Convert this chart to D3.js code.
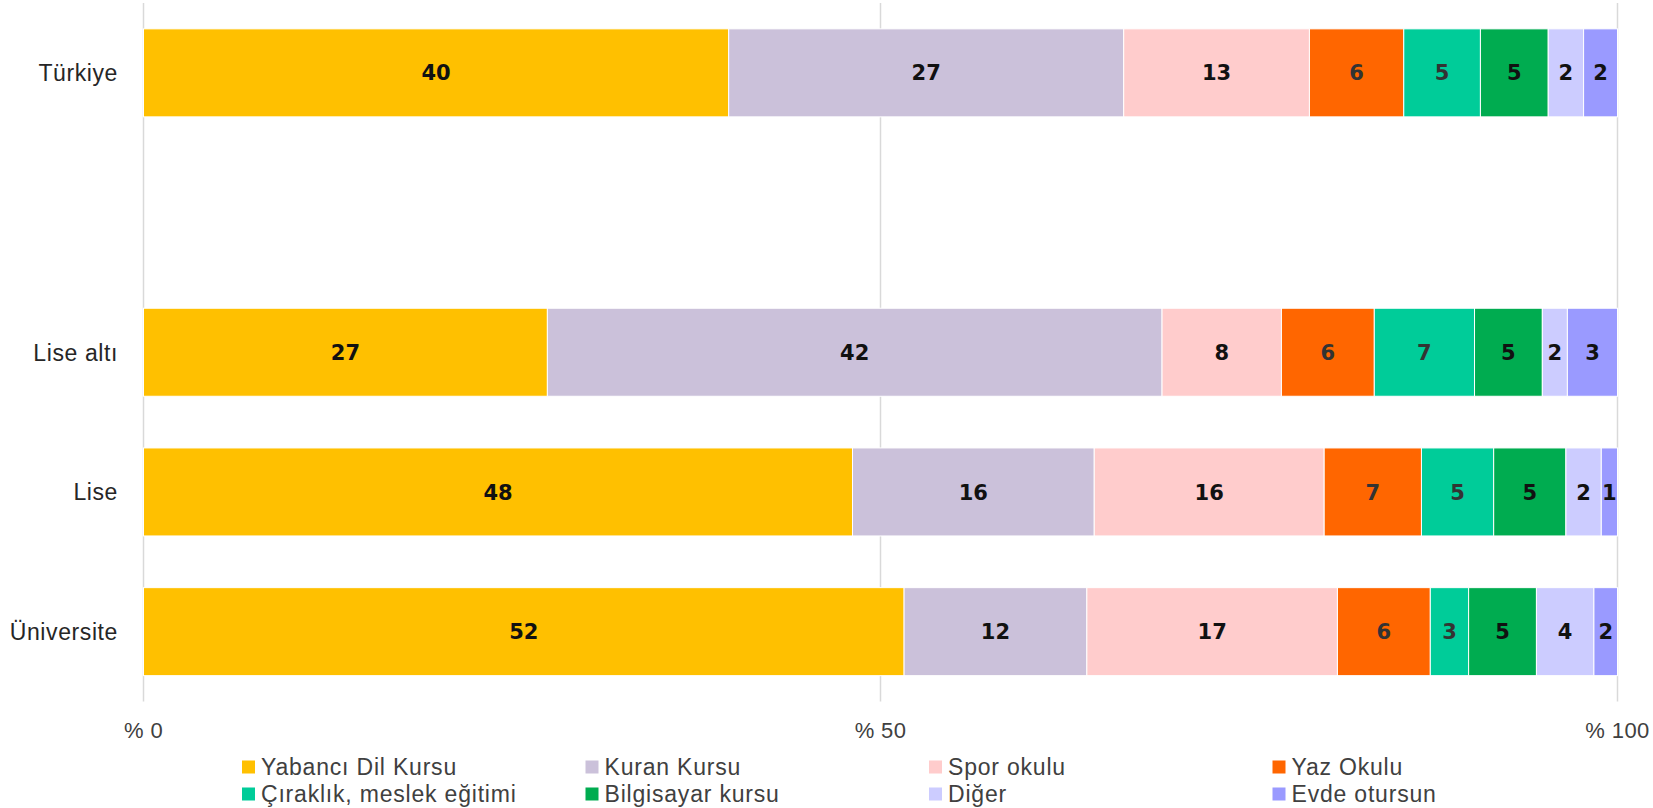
<!DOCTYPE html>
<html>
<head>
<meta charset="utf-8">
<script src="https://cdn.jsdelivr.net/npm/d3@7"></script>
<style>
  body { margin: 0; background: #fff; }
  svg { display: block; }
  text { font-family: "Liberation Sans", Arial, sans-serif; }
</style>
</head>
<body>
<svg id="chart" width="1653" height="808"></svg>
<script>
// categories on the y axis, the empty entry is the gap after Türkiye
const groups = ["Türkiye", "", "Lise altı", "Lise", "Üniversite"];

const seriesNames = ["Yabancı Dil Kursu", "Kuran Kursu", "Spor okulu", "Yaz Okulu",
                     "Çıraklık, meslek eğitimi", "Bilgisayar kursu", "Diğer", "Evde otursun"];
const seriesColors = ["#FFC000", "#CBC1DA", "#FFCCCC", "#FF6600",
                      "#00CC99", "#00AC50", "#CCCCFF", "#9A9AFF"];

// shares (%) per group, same order as seriesNames
const turkiye    = [39.7, 26.8, 12.6, 6.4, 5.2, 4.6, 2.4, 2.3];
const liseAlti   = [27.4, 41.7,  8.1, 6.3, 6.8, 4.6, 1.7, 3.4];
const lise       = [48.1, 16.4, 15.6, 6.6, 4.9, 4.9, 2.4, 1.1];
const universite = [51.6, 12.4, 17.0, 6.3, 2.6, 4.6, 3.9, 1.6];

const xTicks = [0, 50, 100];

const rows = [
  {group: "Türkiye", values: turkiye},
  {group: "Lise altı", values: liseAlti},
  {group: "Lise", values: lise},
  {group: "Üniversite", values: universite}
];

const svg = d3.select("#chart");

const x = d3.scaleLinear().domain([0, 100]).range([143.5, 1617.5]);
const y = d3.scaleBand().domain(groups).range([3, 701.5])
  .paddingInner(0.37).paddingOuter(0.185);

// vertical gridlines
svg.append("g")
  .selectAll("line")
  .data(xTicks)
  .join("line")
  .attr("x1", d => x(d)).attr("x2", d => x(d))
  .attr("y1", 3).attr("y2", 701.5)
  .attr("stroke", "#D9D9D9")
  .attr("stroke-width", 1.5);

// tick labels
svg.append("g")
  .selectAll("text")
  .data(xTicks)
  .join("text")
  .attr("x", d => x(d))
  .attr("y", 738)
  .attr("text-anchor", "middle")
  .attr("font-size", 22)
  .attr("letter-spacing", 0.4)
  .attr("fill", "#404040")
  .text(d => "% " + d);

// stack each row into segments
const segments = rows.flatMap(r => {
  let acc = 0;
  return r.values.map((v, i) => {
    const seg = {group: r.group, i, v, x0: acc, x1: acc + v};
    acc += v;
    return seg;
  });
});

const bars = svg.append("g");

bars.selectAll("rect")
  .data(segments)
  .join("rect")
  .attr("x", d => x(d.x0))
  .attr("width", d => x(d.x1) - x(d.x0))
  .attr("y", d => y(d.group))
  .attr("height", y.bandwidth())
  .attr("fill", d => seriesColors[d.i])
  .attr("stroke", "#fff")
  .attr("stroke-width", 1);

// value labels
const darkLabels = [3, 4];   // Yaz Okulu and Çıraklık labels are a bit lighter
bars.selectAll("text")
  .data(segments)
  .join("text")
  .attr("x", d => (x(d.x0) + x(d.x1)) / 2)
  .attr("y", d => y(d.group) + y.bandwidth() / 2)
  .attr("dy", "0.36em")
  .attr("text-anchor", "middle")
  .style("font-family", "'DejaVu Sans', sans-serif")
  .attr("font-size", 21)
  .attr("font-weight", "bold")
  .attr("fill", d => darkLabels.includes(d.i) ? "#333" : "#111")
  .text(d => Math.round(d.v));

// category labels
svg.append("g")
  .selectAll("text")
  .data(groups.filter(g => g !== ""))
  .join("text")
  .attr("x", 118)
  .attr("y", d => y(d) + y.bandwidth() / 2)
  .attr("dy", "0.36em")
  .attr("text-anchor", "end")
  .attr("font-size", 23)
  .attr("letter-spacing", 0.6)
  .attr("fill", "#262626")
  .text(d => d);

// legend, 4 columns x 2 rows
const legend = svg.append("g")
  .selectAll("g")
  .data(seriesNames)
  .join("g")
  .attr("transform", (d, i) => `translate(${242 + (i % 4) * 343.5}, ${760.5 + Math.floor(i / 4) * 27})`);

legend.append("rect")
  .attr("width", 13).attr("height", 13)
  .attr("fill", (d, i) => seriesColors[i]);

legend.append("text")
  .attr("x", 19)
  .attr("y", 14.5)
  .attr("font-size", 23)
  .attr("letter-spacing", 0.8)
  .attr("fill", "#404040")
  .text(d => d);
</script>
</body>
</html>
